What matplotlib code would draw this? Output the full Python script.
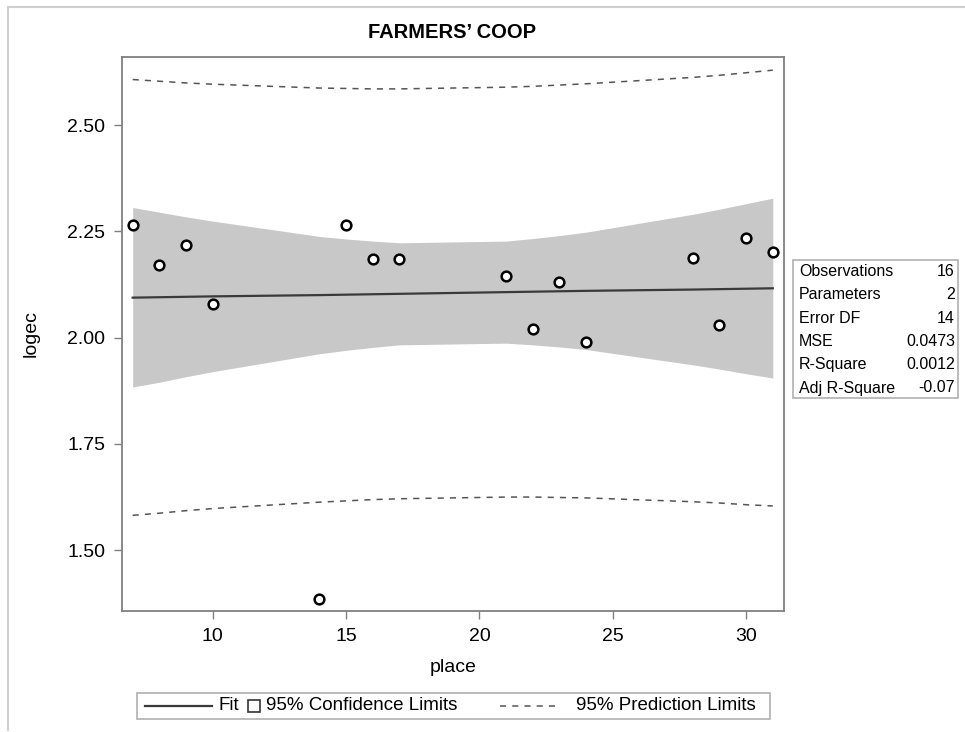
import matplotlib
matplotlib.use("Agg")
import matplotlib.pyplot as plt
from matplotlib.lines import Line2D
from matplotlib.patches import Rectangle

# data
place = [7, 8, 9, 10, 14, 15, 16, 17, 21, 22, 23, 24, 28, 29, 30, 31]
logec = [2.266, 2.170, 2.219, 2.079, 1.386, 2.266, 2.184, 2.184,
         2.144, 2.021, 2.131, 1.990, 2.187, 2.030, 2.234, 2.201]
fit = [2.094, 2.095, 2.096, 2.097, 2.100, 2.101, 2.102, 2.103,
       2.107, 2.108, 2.109, 2.110, 2.113, 2.114, 2.115, 2.116]
cl_upper = [2.306, 2.295, 2.284, 2.274, 2.238, 2.232, 2.227, 2.223,
            2.227, 2.233, 2.240, 2.248, 2.290, 2.302, 2.315, 2.328]
cl_lower = [1.884, 1.895, 1.908, 1.920, 1.962, 1.970, 1.977, 1.983,
            1.987, 1.983, 1.978, 1.972, 1.936, 1.926, 1.915, 1.905]
pl_upper = [2.607, 2.603, 2.599, 2.596, 2.587, 2.586, 2.585, 2.585,
            2.589, 2.591, 2.594, 2.597, 2.612, 2.617, 2.623, 2.629]
pl_lower = [1.582, 1.587, 1.593, 1.598, 1.613, 1.616, 1.619, 1.621,
            1.625, 1.625, 1.624, 1.623, 1.614, 1.611, 1.607, 1.604]

stat_names = ["Observations", "Parameters", "Error DF", "MSE", "R-Square", "Adj R-Square"]
stat_values = ["16", "2", "14", "0.0473", "0.0012", "-0.07"]

yticks = [1.50, 1.75, 2.00, 2.25, 2.50]
xticks = [10, 15, 20, 25, 30]

plt.rcParams['font.family'] = ['Liberation Sans', 'DejaVu Sans']

W, H = 965, 732
fig = plt.figure(figsize=(W / 100, H / 100), dpi=100)


def fx(x):
    return x / W


def fy(y):
    return 1 - y / H


# plot area in pixels: left 122, right 784, top 57, bottom 611
ax = fig.add_axes([fx(122), fy(611), (784 - 122) / W, (611 - 57) / H])

band_col = '#c8c8c8'
line_col = '#3a3a3a'
dash_col = '#555555'
spine_col = '#808080'

ax.fill_between(place, cl_lower, cl_upper, color=band_col, lw=0, zorder=1)
ax.plot(place, fit, color=line_col, lw=1.6, zorder=2)
ax.plot(place, pl_upper, color=dash_col, lw=1.1, ls=(0, (4, 4)), zorder=2)
ax.plot(place, pl_lower, color=dash_col, lw=1.1, ls=(0, (4, 4)), zorder=2)
ax.plot(place, logec, ls='none', marker='o', ms=7, mfc='white', mec='black',
        mew=1.8, zorder=3)

ax.set_xlim(6.6, 31.42)
ax.set_ylim(1.357, 2.66)
ax.set_xticks(xticks)
ax.set_yticks(yticks)
ax.set_yticklabels([f"{v:.2f}" for v in yticks])
ax.tick_params(direction='out', length=6, width=1, color=spine_col,
               labelsize=14, pad=6)
for s in ax.spines.values():
    s.set_color(spine_col)
    s.set_linewidth(1.3)

ax.set_xlabel('place', fontsize=14, labelpad=10)
ax.set_ylabel('logec', fontsize=14, labelpad=20)

fig.text(fx(452), fy(33), 'FARMERS\u2019 COOP', ha='center', va='center',
         fontsize=14.5, fontweight='bold')

# outer frame (top and left edges only)
fig.add_artist(Line2D([fx(8), 1], [fy(7), fy(7)], color='#cfcfcf', lw=1.5))
fig.add_artist(Line2D([fx(8), fx(8)], [fy(7), fy(730)], color='#cfcfcf', lw=1.5))

# stats table on the right
fig.add_artist(Rectangle((fx(793), fy(398)), (958 - 793) / W, (398 - 260) / H,
                         transform=fig.transFigure, fill=False,
                         edgecolor='#b0b0b0', lw=1.2))
for i, (name, val) in enumerate(zip(stat_names, stat_values)):
    yy = fy(271.5 + i * 23.3)
    fig.text(fx(799), yy, name, ha='left', va='center', fontsize=11.5)
    fig.text(fx(955), yy, val, ha='right', va='center', fontsize=11.5)

# legend below the plot
ly = fy(706)
fig.add_artist(Rectangle((fx(137), fy(719)), (770 - 137) / W, (719 - 693) / H,
                         transform=fig.transFigure, fill=False,
                         edgecolor='#b0b0b0', lw=1.2))
fig.add_artist(Line2D([fx(145), fx(212)], [ly, ly], color=line_col, lw=1.6))
fig.text(fx(218), ly, 'Fit', ha='left', va='center', fontsize=13.5)
fig.add_artist(Line2D([fx(254)], [ly], marker='s', ms=8, mfc='white',
                      mec='#333333', mew=1.2, ls='none'))
fig.text(fx(266), ly, '95% Confidence Limits', ha='left', va='center', fontsize=13.5)
fig.add_artist(Line2D([fx(500), fx(560)], [ly, ly], color=dash_col, lw=1.1,
                      ls=(0, (4, 4))))
fig.text(fx(576), ly, '95% Prediction Limits', ha='left', va='center', fontsize=13.5)

fig.savefig('out.png', dpi=100)
